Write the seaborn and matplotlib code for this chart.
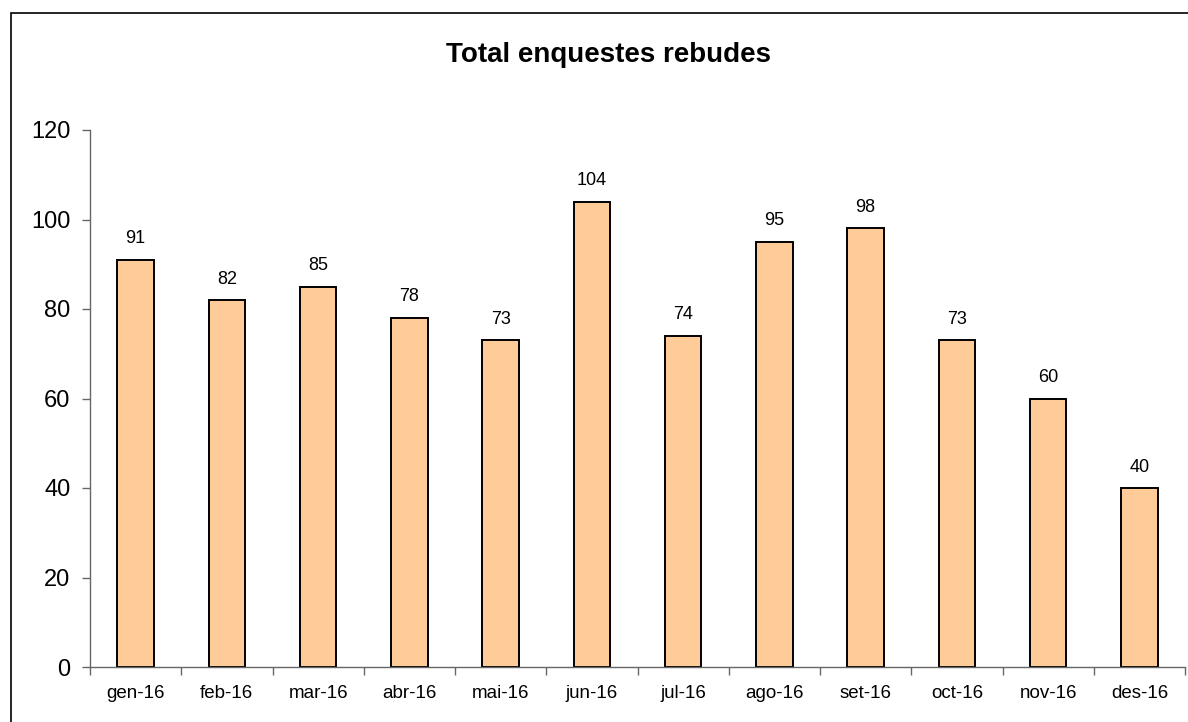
import matplotlib
matplotlib.use('Agg')
import matplotlib.pyplot as plt
import seaborn as sns
import pandas as pd
from matplotlib.patches import Rectangle

# Data
months = ['gen-16', 'feb-16', 'mar-16', 'abr-16', 'mai-16', 'jun-16',
          'jul-16', 'ago-16', 'set-16', 'oct-16', 'nov-16', 'des-16']
surveys = [91, 82, 85, 78, 73, 104, 74, 95, 98, 73, 60, 40]

df = pd.DataFrame({'month': months, 'surveys': surveys})

sns.set_style('white')
plt.rcParams['font.family'] = ['Liberation Sans', 'DejaVu Sans']
plt.rcParams['text.color'] = 'black'

fig = plt.figure(figsize=(11.88, 7.22), dpi=100)
ax = fig.add_axes([90 / 1188, 1 - 667 / 722, (1185 - 90) / 1188, (667 - 130) / 722])

sns.barplot(data=df, x='month', y='surveys', color='#FFCC99', saturation=1,
            edgecolor='black', linewidth=1.4, width=0.4, ax=ax)

ax.set_xlim(-0.5, len(months) - 0.5)
ax.set_ylim(0, 120)
ax.set_yticks(range(0, 121, 20))
ax.set_xlabel('')
ax.set_ylabel('')

# value labels above bars
ax.bar_label(ax.containers[0], labels=[str(v) for v in surveys],
             padding=9, fontsize=13, color='black')

# spines: only left and bottom, grey
for side in ['top', 'right']:
    ax.spines[side].set_visible(False)
for side in ['left', 'bottom']:
    ax.spines[side].set_color('#666666')
    ax.spines[side].set_linewidth(1.0)

ax.tick_params(axis='y', which='major', direction='out', length=6, width=1,
               color='#666666', labelcolor='black', labelsize=17, pad=8, left=True)
ax.tick_params(axis='x', which='major', length=0, labelsize=13.5, pad=13,
               labelcolor='black')
ax.set_xticks([i - 0.5 for i in range(len(months) + 1)], minor=True)
ax.tick_params(axis='x', which='minor', direction='out', length=6, width=1,
               color='#666666', bottom=True)

fig.text(608 / 1188, 1 - 55 / 722, 'Total enquestes rebudes', color='black',
         ha='center', va='center', fontsize=20, fontweight='bold')

# outer frame of the chart area
fig.patches.append(Rectangle((11 / 1188, -0.05), 1.1, 1 - 13 / 722 + 0.05,
                             transform=fig.transFigure, fill=False,
                             edgecolor='black', linewidth=1.2, clip_on=False))

fig.savefig('out.png', dpi=100)
